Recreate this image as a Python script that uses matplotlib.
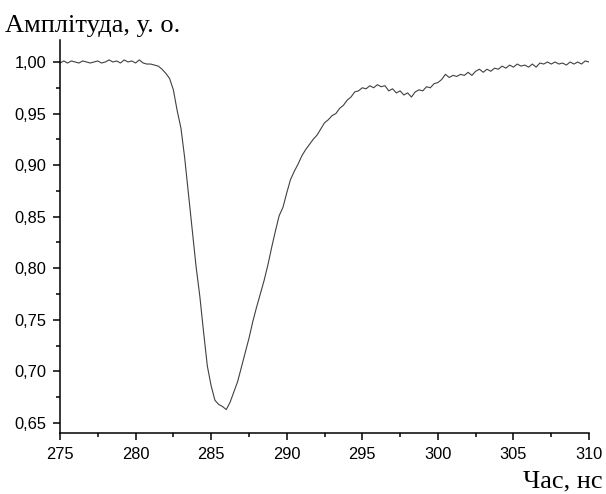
import matplotlib
matplotlib.use("Agg")
import matplotlib.pyplot as plt
from matplotlib.ticker import MultipleLocator, FuncFormatter

# час, нс
time_ns = [
    275.0, 275.25, 275.5, 275.75, 276.0, 276.25, 276.5, 276.75, 277.0, 277.25,
    277.5, 277.75, 278.0, 278.25, 278.5, 278.75, 279.0, 279.25, 279.5, 279.75,
    280.0, 280.25, 280.5, 280.75, 281.0, 281.25, 281.5, 281.75, 282.0, 282.25,
    282.5, 282.75, 283.0, 283.25, 283.5, 283.75, 284.0, 284.25, 284.5, 284.75,
    285.0, 285.25, 285.5, 285.75, 286.0, 286.25, 286.5, 286.75, 287.0, 287.25,
    287.5, 287.75, 288.0, 288.25, 288.5, 288.75, 289.0, 289.25, 289.5, 289.75,
    290.0, 290.25, 290.5, 290.75, 291.0, 291.25, 291.5, 291.75, 292.0, 292.25,
    292.5, 292.75, 293.0, 293.25, 293.5, 293.75, 294.0, 294.25, 294.5, 294.75,
    295.0, 295.25, 295.5, 295.75, 296.0, 296.25, 296.5, 296.75, 297.0, 297.25,
    297.5, 297.75, 298.0, 298.25, 298.5, 298.75, 299.0, 299.25, 299.5, 299.75,
    300.0, 300.25, 300.5, 300.75, 301.0, 301.25, 301.5, 301.75, 302.0, 302.25,
    302.5, 302.75, 303.0, 303.25, 303.5, 303.75, 304.0, 304.25, 304.5, 304.75,
    305.0, 305.25, 305.5, 305.75, 306.0, 306.25, 306.5, 306.75, 307.0, 307.25,
    307.5, 307.75, 308.0, 308.25, 308.5, 308.75, 309.0, 309.25, 309.5, 309.75,
    310.0,
]

# амплітуда, у. о.
amplitude = [
    0.999, 1.001, 0.999, 1.001, 1.000, 0.999, 1.001, 1.000, 0.999, 1.000,
    1.001, 0.999, 1.000, 1.002, 1.000, 1.001, 0.999, 1.002, 1.000, 1.001,
    0.999, 1.002, 0.999, 0.998, 0.998, 0.997, 0.996, 0.993, 0.989, 0.984,
    0.973, 0.953, 0.936, 0.907, 0.872, 0.836, 0.802, 0.773, 0.738, 0.705,
    0.686, 0.672, 0.668, 0.666, 0.663, 0.670, 0.680, 0.690, 0.704, 0.718,
    0.732, 0.748, 0.762, 0.775, 0.788, 0.803, 0.820, 0.836, 0.851, 0.859,
    0.873, 0.886, 0.894, 0.901, 0.909, 0.915, 0.920, 0.925, 0.929, 0.935,
    0.941, 0.944, 0.948, 0.950, 0.955, 0.958, 0.963, 0.966, 0.971, 0.972,
    0.975, 0.974, 0.977, 0.975, 0.978, 0.976, 0.977, 0.972, 0.974, 0.970,
    0.972, 0.968, 0.970, 0.966, 0.971, 0.973, 0.972, 0.976, 0.975, 0.979,
    0.980, 0.983, 0.988, 0.985, 0.987, 0.986, 0.988, 0.987, 0.990, 0.987,
    0.991, 0.993, 0.990, 0.993, 0.991, 0.994, 0.993, 0.996, 0.994, 0.997,
    0.995, 0.998, 0.996, 0.997, 0.995, 0.998, 0.995, 0.999, 0.998, 1.000,
    0.998, 1.000, 0.998, 0.999, 0.997, 1.000, 0.998, 1.000, 0.998, 1.001,
    1.000,
]

fig = plt.figure(figsize=(6.06, 4.94), dpi=100)
ax = fig.add_axes([0.099, 0.1235, 0.873, 0.7955])

ax.plot(time_ns, amplitude, color="#404040", linewidth=0.8)

ax.set_xlim(275, 310)
ax.set_ylim(0.6403, 1.0213)

ax.spines["top"].set_visible(False)
ax.spines["right"].set_visible(False)
for side in ("left", "bottom"):
    ax.spines[side].set_linewidth(1.1)

ax.xaxis.set_major_locator(MultipleLocator(5))
ax.xaxis.set_minor_locator(MultipleLocator(2.5))
ax.yaxis.set_major_locator(MultipleLocator(0.05))
ax.yaxis.set_minor_locator(MultipleLocator(0.025))
ax.yaxis.set_major_formatter(FuncFormatter(lambda v, p: f"{v:.2f}".replace(".", ",")))

ax.tick_params(which="major", direction="out", length=5, width=1.1, pad=5,
               labelsize=11.8, labelfontfamily="Liberation Sans")
ax.tick_params(which="minor", direction="out", length=3, width=1.1)

fig.text(0.009, 0.935, "Амплітуда, у. о.", fontsize=19, family="Liberation Serif",
         ha="left", va="baseline")
fig.text(0.994, 0.013, "Час, нс", fontsize=19, family="Liberation Serif",
         ha="right", va="baseline")

fig.savefig("out.png", dpi=100)
